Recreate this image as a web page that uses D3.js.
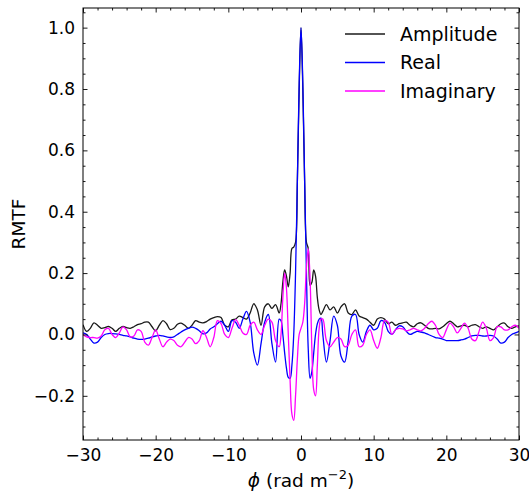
<!DOCTYPE html>
<html>
<head>
<meta charset="utf-8">
<script src="https://cdn.jsdelivr.net/npm/d3@7"></script>
<style>
  body { margin: 0; background: #fff; }
  svg { display: block; font-family: "DejaVu Sans", sans-serif; }
</style>
</head>
<body>
<div id="chart"></div>
<script>
// phi grid (rad m^-2): 0.5 steps outside, 0.25 steps around the main lobe
const phiLeft = [-30, -29.5, -29, -28.5, -28, -27.5, -27, -26.5, -26, -25.5, -25, -24.5, -24, -23.5, -23, -22.5, -22, -21.5, -21, -20.5,
  -20, -19.5, -19, -18.5, -18, -17.5, -17, -16.5, -16, -15.5, -15, -14.5, -14, -13.5, -13, -12.5, -12, -11.5, -11, -10.5,
  -10, -9.5, -9, -8.5, -8, -7.5, -7, -6.5, -6, -5.5, -5, -4.5, -4, -3.5];
const phiMid = [-3, -2.75, -2.5, -2.25, -2, -1.75, -1.5, -1.25, -1, -0.75, -0.5, -0.25, 0, 0.25, 0.5, 0.75, 1, 1.25, 1.5, 1.75, 2, 2.25, 2.5, 2.75, 3];
const phiRight = [3.5, 4, 4.5, 5, 5.5, 6, 6.5, 7, 7.5, 8, 8.5, 9, 9.5, 10, 10.5, 11, 11.5, 12, 12.5, 13, 13.5, 14, 14.5, 15, 15.5, 16, 16.5,
  17, 17.5, 18, 18.5, 19, 19.5, 20, 20.5, 21, 21.5, 22, 22.5, 23, 23.5, 24, 24.5, 25, 25.5, 26, 26.5, 27, 27.5, 28, 28.5, 29, 29.5, 30];

const amplitude = [
  0.032, 0.01, 0.02, 0.038, 0.03, 0.02, 0.022, 0.026, 0.02, 0.01, 0.02, 0.026, 0.022, 0.02, 0.025, 0.032, 0.035, 0.04, 0.04, 0.025,
  0.012, 0.03, 0.045, 0.035, 0.016, 0.02, 0.033, 0.037, 0.03, 0.02, 0.03, 0.045, 0.04, 0.038, 0.042, 0.05, 0.055, 0.058, 0.055, 0.03,
  0.025, 0.048, 0.05, 0.06, 0.055, 0.05, 0.07, 0.1, 0.08, 0.03, 0.09, 0.1, 0.085, 0.097,
  0.07, 0.1, 0.17, 0.21, 0.19, 0.155, 0.2, 0.28, 0.285, 0.3, 0.5, 0.8, 1.0, 0.8, 0.5, 0.3, 0.28, 0.16, 0.17, 0.21, 0.19, 0.12, 0.08, 0.065, 0.075,
  0.097, 0.08, 0.09, 0.07, 0.09, 0.1, 0.07, 0.065, 0.08, 0.06, 0.055, 0.05, 0.04, 0.03, 0.05, 0.055, 0.05, 0.035, 0.04, 0.03, 0.035,
  0.038, 0.04, 0.03, 0.025, 0.035, 0.038, 0.03, 0.02, 0.018, 0.02, 0.018, 0.025, 0.035, 0.043, 0.035, 0.025, 0.028, 0.03, 0.025, 0.03,
  0.032, 0.025, 0.02, 0.025, 0.02, 0.015, 0.025, 0.035, 0.037, 0.025, 0.02, 0.025, 0.028];

const real = [
  0.005, 0.0, -0.015, -0.028, -0.025, -0.01, 0.0, 0.003, 0.003, 0.002, 0.0, -0.003, -0.005, -0.008, -0.012, -0.015, -0.016, -0.015, -0.012, -0.008,
  -0.005, -0.003, -0.005, -0.008, -0.01, -0.008, 0.0, 0.008, 0.015, 0.02, 0.024, 0.02, 0.012, 0.002, 0.005, 0.018, 0.025, 0.035, 0.043, 0.03,
  0.01, 0.045, 0.04, 0.02, 0.05, 0.075, 0.04, -0.06, -0.1, -0.03, 0.04, 0.065, -0.03, -0.09,
  0.05, 0.045, 0.0, -0.06, -0.11, -0.14, -0.143, -0.1, 0.0, 0.2, 0.5, 0.82, 1.0, 0.82, 0.5, 0.2, -0.05, -0.143, -0.12, -0.06, 0.0, 0.035, 0.05, 0.053, 0.0,
  -0.09, -0.02, 0.06, 0.03, -0.07, -0.09, -0.02, 0.06, 0.065, 0.0, -0.025, 0.01, 0.03, 0.015, 0.02, 0.045, 0.04, 0.01, 0.0, 0.015, 0.028,
  0.025, 0.01, 0.0, 0.005, 0.01, 0.008, 0.005, 0.0, -0.005, -0.01, -0.012, -0.015, -0.02, -0.02, -0.02, -0.02, -0.018, -0.015, -0.01, -0.005,
  -0.003, -0.003, -0.005, -0.005, -0.003, -0.005, -0.015, -0.028, -0.025, -0.01, 0.0, 0.005, 0.01];

const imaginary = [
  0.0, -0.008, -0.01, -0.01, -0.012, -0.005, 0.015, 0.02, 0.0, -0.01, 0.005, 0.025, 0.015, -0.008, -0.005, 0.015, 0.01, -0.025, -0.035, -0.01,
  0.015, -0.015, -0.04, -0.025, -0.015, -0.02, -0.035, -0.04, -0.025, -0.01, -0.015, -0.03, -0.02, 0.012, -0.01, -0.04, -0.01, 0.045, 0.035, 0.0,
  -0.01, 0.02, 0.048, 0.03, 0.005, 0.0, 0.03, 0.04, 0.015, 0.0, 0.03, 0.05, 0.04, -0.02,
  -0.04, 0.0, 0.12, 0.2, 0.15, 0.0, -0.15, -0.26, -0.28, -0.2, -0.08, 0.0, 0.02, 0.04, 0.1, 0.22, 0.28, 0.18, -0.05, -0.18, -0.2, -0.1, 0.02, 0.05, 0.05,
  -0.02, -0.04, -0.025, -0.01, -0.015, -0.04, -0.035, 0.0, 0.015, -0.04, -0.035, 0.0, 0.015, -0.02, -0.045, -0.01, 0.045, 0.04, 0.0, 0.015, 0.02,
  0.018, 0.012, 0.015, 0.02, 0.015, 0.012, 0.02, 0.035, 0.043, 0.03, 0.0, -0.01, 0.015, 0.037, 0.025, 0.005, 0.02, 0.037, 0.02, -0.015,
  -0.02, 0.01, 0.04, 0.02, -0.02, -0.01, 0.025, 0.025, 0.015, 0.015, 0.025, 0.03, 0.02];

const seriesNames = ["Amplitude", "Real", "Imaginary"];
const seriesColors = ["#1a1a1a", "#0000ff", "#ff00ff"];

const phi = phiLeft.concat(phiMid, phiRight);
const seriesValues = [amplitude, real, imaginary];

const W = 529, H = 492;
const margin = {top: 8, right: 10, bottom: 52, left: 83};
const iw = W - margin.left - margin.right;
const ih = H - margin.top - margin.bottom;

const svg = d3.select("#chart").append("svg")
  .attr("width", W)
  .attr("height", H);

const g = svg.append("g")
  .attr("transform", "translate(" + margin.left + "," + margin.top + ")");

const x = d3.scaleLinear().domain([-30, 30]).range([0, iw]);
const y = d3.scaleLinear().domain([-0.344, 1.064]).range([ih, 0]);

g.append("clipPath").attr("id", "clip")
  .append("rect").attr("width", iw).attr("height", ih);

// lines
const line = d3.line()
  .x((d) => x(d[0]))
  .y((d) => y(d[1]))
  .curve(d3.curveCatmullRom.alpha(0.5));

seriesValues.forEach(function (vals, i) {
  g.append("path")
    .datum(phi.map((p, j) => [p, vals[j]]))
    .attr("clip-path", "url(#clip)")
    .attr("fill", "none")
    .attr("stroke", seriesColors[i])
    .attr("stroke-width", 1.3)
    .attr("d", line);
});

// AXES (ticks inside, on all four sides)
const xMajor = d3.range(-30, 31, 10);
const xMinor = d3.range(-30, 31, 2).filter((v) => v % 10 !== 0);
const yMajor = [-0.2, 0, 0.2, 0.4, 0.6, 0.8, 1.0];
const yMinor = d3.range(-0.3, 1.06, 0.05).map((v) => +v.toFixed(2)).filter((v) => Math.abs(Math.round(v * 5) - v * 5) > 1e-6);
const minus = (s) => s.replace("-", "\u2212");
const fmtY = (d) => minus(d3.format(".1f")(d));
const fmtX = (d) => minus(d3.format("d")(d));

function styleAxis(sel) {
  sel.attr("font-family", null).attr("font-size", null);
  sel.select(".domain").remove();
  sel.selectAll("line").attr("stroke", "#000").attr("stroke-width", 0.9);
  sel.selectAll("text").style("font-size", "17px").attr("fill", "#000");
}

g.append("g").attr("transform", "translate(0," + ih + ")")
  .call(d3.axisBottom(x).tickValues(xMajor).tickFormat(fmtX).tickSizeInner(-4.5).tickPadding(9))
  .call(styleAxis);
g.append("g").attr("transform", "translate(0," + ih + ")")
  .call(d3.axisBottom(x).tickValues(xMinor).tickFormat("").tickSizeInner(-2.5))
  .call(styleAxis);
g.append("g")
  .call(d3.axisTop(x).tickValues(xMajor).tickFormat("").tickSizeInner(-4.5))
  .call(styleAxis);
g.append("g")
  .call(d3.axisTop(x).tickValues(xMinor).tickFormat("").tickSizeInner(-2.5))
  .call(styleAxis);

g.append("g")
  .call(d3.axisLeft(y).tickValues(yMajor).tickFormat(fmtY).tickSizeInner(-4.5).tickPadding(8))
  .call(styleAxis);
g.append("g")
  .call(d3.axisLeft(y).tickValues(yMinor).tickFormat("").tickSizeInner(-2.5))
  .call(styleAxis);
g.append("g").attr("transform", "translate(" + iw + ",0)")
  .call(d3.axisRight(y).tickValues(yMajor).tickFormat("").tickSizeInner(-4.5))
  .call(styleAxis);
g.append("g").attr("transform", "translate(" + iw + ",0)")
  .call(d3.axisRight(y).tickValues(yMinor).tickFormat("").tickSizeInner(-2.5))
  .call(styleAxis);

// frame
g.append("rect")
  .attr("width", iw).attr("height", ih)
  .attr("fill", "none").attr("stroke", "#000").attr("stroke-width", 1);

// axis labels
const xl = svg.append("text")
  .attr("x", margin.left + iw / 2).attr("y", 487)
  .attr("text-anchor", "middle").style("font-size", "18.5px");
xl.append("tspan").attr("font-style", "italic").text("ϕ");
xl.append("tspan").text(" (rad m");
xl.append("tspan").style("font-size", "13px").attr("dy", -8).text("−2");
xl.append("tspan").attr("dy", 8).text(")");

svg.append("text")
  .attr("transform", "translate(25," + (margin.top + ih / 2) + ") rotate(-90)")
  .attr("text-anchor", "middle").style("font-size", "18.5px")
  .text("RMTF");

// legend
const legend = g.append("g").attr("transform", "translate(262,26)");
seriesNames.forEach(function (name, i) {
  const row = legend.append("g").attr("transform", "translate(0," + i * 28.5 + ")");
  row.append("line").attr("x1", 0).attr("x2", 40)
    .attr("stroke", seriesColors[i]).attr("stroke-width", 1.3);
  row.append("text").attr("x", 55).attr("dy", "0.35em")
    .style("font-size", "19px").text(name);
});
</script>
</body>
</html>
